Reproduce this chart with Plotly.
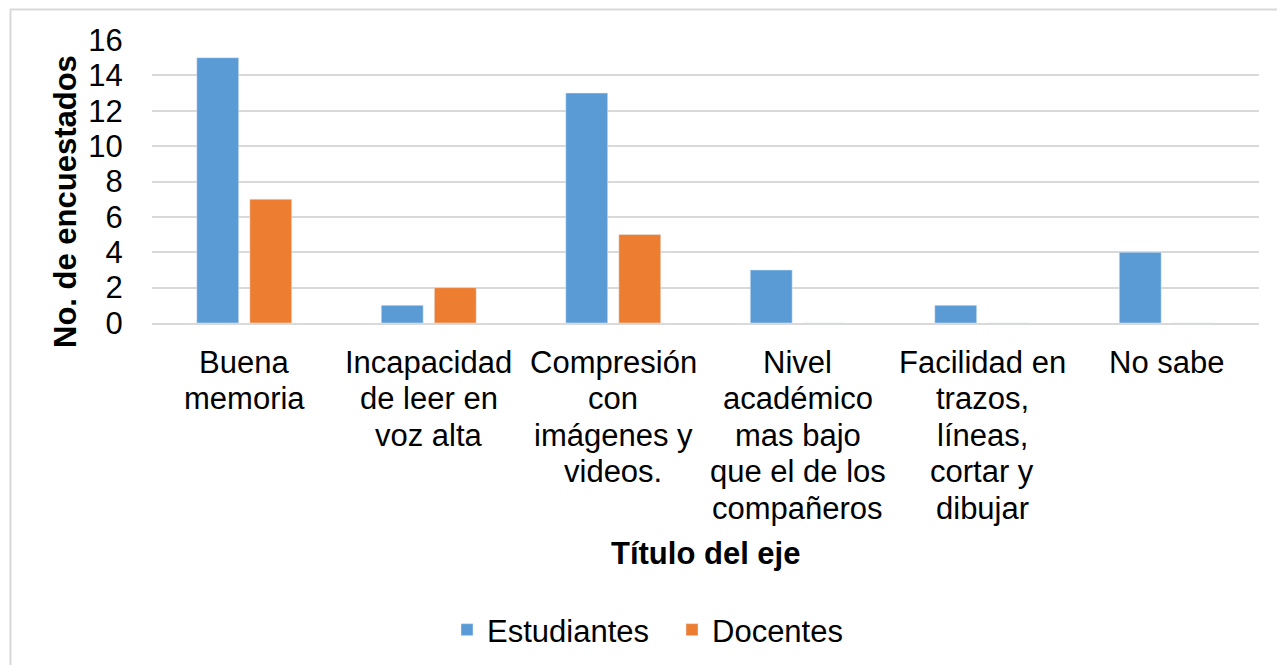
import plotly.graph_objects as go

categories = ["Buena memoria", "Incapacidad de leer en voz alta",
              "Compresión con imágenes y videos.",
              "Nivel académico mas bajo que el de los compañeros",
              "Facilidad en trazos, líneas, cortar y dibujar", "No sabe"]
tick_labels = ["Buena<br>memoria", "Incapacidad<br>de leer en<br>voz alta",
               "Compresión<br>con<br>imágenes y<br>videos.",
               "Nivel<br>académico<br>mas bajo<br>que el de los<br>compañeros",
               "Facilidad en<br>trazos,<br>líneas,<br>cortar y<br>dibujar", "No sabe"]
estudiantes = [15, 1, 13, 3, 1, 4]
docentes = [7, 2, 5, 0, 0, 0]
y_ticks = [0, 2, 4, 6, 8, 10, 12, 14, 16]

FONT = "Liberation Sans, Arial, sans-serif"
FS = 31
OFF = 8  # page body margin
W, H = 1277, 657
# plot area in screen pixels: x 152..1259, y 40..323
L, R, T, B = 152 - OFF, W - (1259 - OFF), 40 - OFF, H - (323 - OFF)
pw, ph = W - L - R, H - T - B


def px_x(p):
    return (p - OFF - L) / pw


def px_y(p):
    return (H - B - (p - OFF)) / ph


fig = go.Figure()
fig.add_trace(go.Bar(x=categories, y=estudiantes, name="Estudiantes", marker_color="#5B9BD5"))
fig.add_trace(go.Bar(x=categories, y=docentes, name="Docentes", marker_color="#ED7D31"))

annotations = [
    dict(text="<b>No. de encuestados</b>", textangle=-90, xref="paper", yref="paper",
         x=px_x(65), y=px_y(202), xanchor="center", yanchor="middle", showarrow=False,
         font=dict(size=FS, family=FONT, color="#000000")),
    dict(text="<b>Título del eje</b>", xref="paper", yref="paper",
         x=px_x(705), y=px_y(553), xanchor="center", yanchor="middle", showarrow=False,
         font=dict(size=FS, family=FONT, color="#000000")),
]
# category tick labels, one annotation per line (Excel-like line spacing)
for cat, lab in zip(categories, tick_labels):
    for j, line in enumerate(lab.split("<br>")):
        annotations.append(dict(text=line, xref="x", yref="paper", x=cat,
                                y=px_y(362 + 36.5 * j), xanchor="center", yanchor="middle",
                                showarrow=False,
                                font=dict(size=FS, family=FONT, color="#000000")))

fig.update_layout(
    width=W, height=H,
    margin=dict(l=L, r=R, t=T, b=B, autoexpand=False),
    paper_bgcolor="white", plot_bgcolor="white",
    barmode="group", bargap=0.425, bargroupgap=0.21,
    font=dict(family=FONT, size=FS, color="#000000"),
    showlegend=True,
    legend=dict(orientation="h", x=px_x(447), xanchor="left", y=px_y(630), yanchor="middle",
                font=dict(size=FS), itemwidth=30, traceorder="normal",
                entrywidth=180, entrywidthmode="pixels"),
    xaxis=dict(type="category", showticklabels=False,
               showgrid=False, showline=True, linecolor="#D9D9D9", linewidth=1.5,
               ticks=""),
    yaxis=dict(range=[0, 16], tickvals=y_ticks, showgrid=True, gridcolor="#D9D9D9",
               gridwidth=1.5, zeroline=False, showline=False,
               ticks="outside", ticklen=22, tickcolor="rgba(0,0,0,0)",
               tickfont=dict(size=FS, family=FONT, color="#000000")),
    annotations=annotations,
    shapes=[dict(type="rect", xref="paper", yref="paper",
                 x0=px_x(10.5), x1=px_x(1320), y0=px_y(700), y1=px_y(9.5),
                 line=dict(color="#D9D9D9", width=2), fillcolor="rgba(0,0,0,0)", layer="below")],
)

fig.write_html("out.html")
